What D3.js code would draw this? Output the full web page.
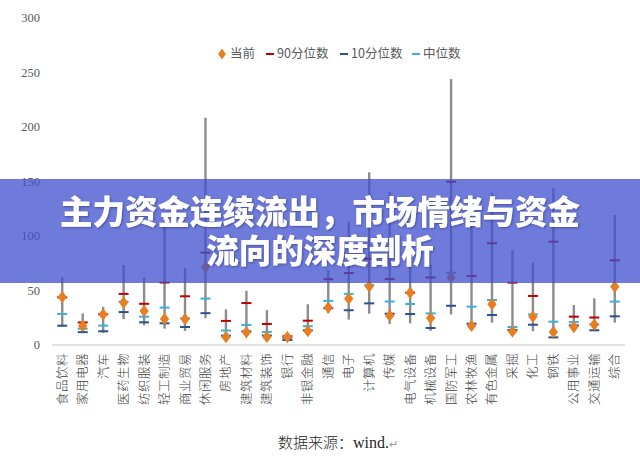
<!DOCTYPE html>
<html><head><meta charset="utf-8">
<script src="https://cdn.jsdelivr.net/npm/d3@7/dist/d3.min.js"></script>
<style>
html,body{margin:0;padding:0;background:#fff;}
svg{display:block;}
</style></head>
<body>
<svg id="chart" width="640" height="463"></svg>
<script>
const categories = ["食品饮料","家用电器","汽车","医药生物","纺织服装","轻工制造","商业贸易","休闲服务","房地产","建筑材料","建筑装饰","银行","非银金融","通信","电子","计算机","传媒","电气设备","机械设备","国防军工","农林牧渔","有色金属","采掘","化工","钢铁","公用事业","交通运输","综合"];
const maxValues    = [62, 29, 35, 73.3, 62, 108.5, 70.3, 208.5, 32.7, 49.8, 32, 10, 37.3, 69, 113, 158.4, 140.6, 90, 73.4, 244, 108.5, 139.7, 87.2, 75.5, 143.7, 36.7, 42.8, 119.3];
const minValues    = [17, 11, 11, 23.7, 18, 15, 12.9, 24.5, 6, 10, 6, 4, 10.7, 29, 23.3, 28.7, 19.3, 19.9, 12.9, 28, 16.8, 20.5, 10.7, 12.6, 6.1, 14.4, 13, 20.5];
const p90Values    = [43.7, 20.7, 28.2, 46.9, 37.8, 57.3, 44.7, 84.7, 22.1, 38.5, 19.3, 8, 22.3, 60.4, 66, 79, 60.4, 48, 62, 149.8, 63.4, 93.3, 57.2, 45, 94.8, 26, 25.2, 77.7];
const p10Values    = [17.7, 11.8, 12.6, 30.2, 20.8, 19.9, 16.5, 29.2, 8.5, 12.5, 8.7, 4.6, 13.5, 33.7, 31.9, 38.2, 28.7, 28.4, 15.6, 36, 19.5, 27.5, 13.8, 18.6, 7, 18, 13.5, 26.3];
const medianValues = [28.4, 15, 17.8, 39.7, 26, 34.3, 24.4, 42.6, 13.3, 18.4, 12, 6.4, 17.2, 40.5, 46.9, 55, 39.9, 37.6, 29, 66.3, 35.2, 41.3, 16.5, 28, 21.4, 21, 18.8, 39.8];
const currentValues= [44, 17.5, 28, 38.9, 31.2, 23.9, 23.8, 71.5, 7.3, 11.6, 7.4, 7.3, 12.8, 34.5, 42.5, 53.8, 26.9, 48, 24.7, 62, 17.5, 37.4, 12.4, 26, 11.9, 16.5, 18.8, 53.5];
const yTicks = [0, 50, 100, 150, 200, 250, 300];
const legendLabels = ["当前", "90分位数", "10分位数", "中位数"];
const titleLines = ["主力资金连续流出，市场情绪与资金", "流向的深度剖析"];

const colors = {range:"#8c8c8c", cur:"#E87E22", p90:"#C00000", p10:"#2F4F8F", med:"#3BB0D8"};
const svg = d3.select("#chart");
const x = d3.scaleBand().domain(categories).range([52, 625]);
const y = d3.scaleLinear().domain([0, 300]).range([345, 18]);
const cx = d => x(d) + x.bandwidth()/2;

// y tick labels
svg.append("g").selectAll("text").data(yTicks).join("text")
  .attr("x", 40).attr("y", d => y(d)).attr("dy", "0.35em")
  .attr("text-anchor", "end")
  .attr("font-family", "Liberation Serif, serif").attr("font-size", 12.5)
  .attr("fill", "#595959").text(d => d);

// baseline axis
svg.append("line").attr("x1", 52).attr("x2", 625).attr("y1", y(0)).attr("y2", y(0))
  .attr("stroke", "#d9d9d9").attr("stroke-width", 1.5);

const g = svg.append("g");
g.selectAll("line.rng").data(categories).join("line").attr("class","rng")
  .attr("x1", cx).attr("x2", cx)
  .attr("y1", (d,i) => y(maxValues[i])).attr("y2", (d,i) => y(minValues[i]))
  .attr("stroke", colors.range).attr("stroke-width", 2.4);

function dashes(vals, color) {
  g.append("g").selectAll("line").data(categories).join("line")
    .attr("x1", d => cx(d) - 5).attr("x2", d => cx(d) + 5)
    .attr("y1", (d,i) => y(vals[i])).attr("y2", (d,i) => y(vals[i]))
    .attr("stroke", color).attr("stroke-width", 2);
}
dashes(p10Values, colors.p10);
dashes(medianValues, colors.med);
dashes(p90Values, colors.p90);

const diamond = d3.symbol().type(d3.symbolDiamond).size(48);
g.append("g").selectAll("path").data(categories).join("path")
  .attr("d", diamond)
  .attr("transform", (d,i) => `translate(${cx(d)},${y(currentValues[i])}) scale(1.25,0.95)`)
  .attr("fill", colors.cur);

// category labels (rotated)
svg.append("g").selectAll("text").data(categories).join("text")
  .attr("transform", d => `translate(${cx(d)+4.5},353) rotate(-90)`)
  .attr("text-anchor", "end")
  .attr("font-family", "Noto Sans CJK SC, sans-serif").attr("font-size", 12.5)
  .attr("font-weight", 300)
  .attr("letter-spacing", 0.5)
  .attr("fill", "#404040").text(d => d);

// legend
const lg = svg.append("g").attr("font-family", "Noto Sans CJK SC, sans-serif").attr("font-size", 12.5).attr("fill", "#595959");
lg.append("path").attr("d", d3.symbol().type(d3.symbolDiamond).size(36)).attr("transform","translate(222,54) scale(1.2,1)").attr("fill", colors.cur);
lg.append("text").attr("x", 230).attr("y", 54).attr("dy","0.35em").text(legendLabels[0]);
const legItems = [[266, colors.p90, legendLabels[1]], [340, colors.p10, legendLabels[2]], [412, colors.med, legendLabels[3]]];
legItems.forEach(([lx, c, t]) => {
  lg.append("line").attr("x1", lx).attr("x2", lx+8).attr("y1", 54).attr("y2", 54).attr("stroke", c).attr("stroke-width", 2);
  lg.append("text").attr("x", lx+11).attr("y", 54).attr("dy","0.35em").text(t);
});

// source
const src = svg.append("text").attr("x", 278).attr("y", 448)
  .attr("font-family", "Noto Sans CJK SC, Liberation Serif, serif").attr("font-size", 15).attr("fill", "#262626");
src.append("tspan").attr("font-weight", 300).text("数据来源：");
src.append("tspan").attr("font-family", "Liberation Serif, serif").attr("font-size", 16).text("wind.");
src.append("tspan").attr("font-size", 11).attr("fill", "#9a9a9a").text("↵");

// banner
const defs = svg.append("defs");
const f = defs.append("filter").attr("id","sh").attr("x","-5%").attr("y","-20%").attr("width","110%").attr("height","140%");
f.append("feDropShadow").attr("dx",1).attr("dy",1).attr("stdDeviation",1).attr("flood-color","#1a1f60").attr("flood-opacity",0.5);
svg.append("rect").attr("x", 0).attr("y", 179).attr("width", 640).attr("height", 104)
  .attr("fill", "#3f4fcf").attr("opacity", 0.75);
svg.append("g").attr("filter","url(#sh)").selectAll("text").data(titleLines).join("text")
  .attr("x", 320).attr("y", (d,i) => 212 + i*39).attr("dy", "0.36em")
  .attr("text-anchor", "middle")
  .attr("font-family", "Noto Sans CJK SC, sans-serif").attr("font-weight", 900).attr("font-size", 32.5)
  .attr("fill", "#ffffff").text(d => d);
</script>
</body></html>
